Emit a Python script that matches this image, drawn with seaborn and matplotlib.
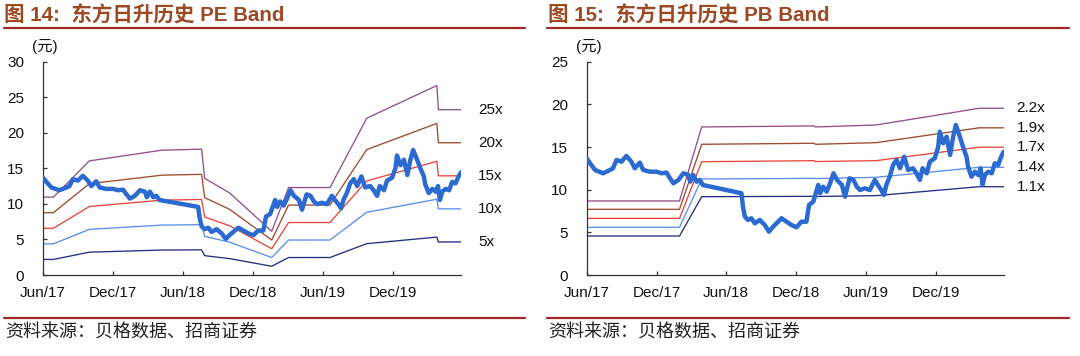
import matplotlib
matplotlib.use('Agg')
import matplotlib.pyplot as plt
import matplotlib.lines as mlines
import pandas as pd
import seaborn as sns

# ---------------- data ----------------
price_dates = ['2017-06-01', '2017-06-10', '2017-06-23', '2017-07-14', '2017-08-01', '2017-08-09',
               '2017-08-18', '2017-08-31', '2017-09-13', '2017-09-26', '2017-10-05', '2017-10-18',
               '2017-10-27', '2017-11-13', '2017-12-01', '2017-12-14', '2017-12-27', '2018-01-05',
               '2018-01-14', '2018-01-27', '2018-02-09', '2018-02-22', '2018-02-27', '2018-03-07',
               '2018-03-16', '2018-03-24', '2018-04-01', '2018-07-11', '2018-07-15', '2018-07-20',
               '2018-07-28', '2018-08-06', '2018-08-15', '2018-08-28', '2018-09-10', '2018-09-21',
               '2018-10-02', '2018-10-15', '2018-10-24', '2018-11-06', '2018-11-19', '2018-12-02',
               '2018-12-15', '2018-12-28', '2019-01-04', '2019-01-15', '2019-01-28', '2019-02-02',
               '2019-02-10', '2019-02-19', '2019-02-28', '2019-03-09', '2019-03-18', '2019-03-31',
               '2019-04-08', '2019-04-20', '2019-04-30', '2019-05-09', '2019-05-17', '2019-05-30',
               '2019-06-12', '2019-06-25', '2019-07-03', '2019-07-12', '2019-07-19', '2019-07-25',
               '2019-08-03', '2019-08-12', '2019-08-21', '2019-08-30', '2019-09-10', '2019-09-20',
               '2019-10-03', '2019-10-12', '2019-10-21', '2019-10-28', '2019-11-08', '2019-11-16',
               '2019-11-29', '2019-12-08', '2019-12-12', '2019-12-21', '2019-12-30', '2020-01-08',
               '2020-01-16', '2020-01-23', '2020-02-01', '2020-02-11', '2020-02-20', '2020-02-24',
               '2020-03-04', '2020-03-13', '2020-03-22', '2020-03-28', '2020-04-02', '2020-04-08',
               '2020-04-17', '2020-04-26', '2020-05-04', '2020-05-13', '2020-05-19', '2020-05-25',
               '2020-05-28']
price = [13.68, 13.09, 12.31, 11.92, 12.31, 12.51,
         13.48, 13.28, 13.95, 13.28, 12.51, 13.17,
         12.31, 12.11, 12.11, 11.92, 12.00, 11.34,
         10.75, 11.14, 11.92, 11.72, 10.94, 11.72,
         10.94, 11.14, 10.55, 9.58, 8.00, 6.84,
         6.45, 6.65, 6.06, 6.45, 5.86, 5.08,
         5.66, 6.25, 6.65, 6.25, 5.86, 5.59,
         6.25, 6.25, 8.21, 8.59, 10.55, 9.58,
         10.35, 9.77, 10.75, 11.92, 11.14, 10.55,
         9.18, 11.34, 11.14, 10.35, 9.96, 10.16,
         9.96, 11.14, 10.55, 9.96, 9.38, 10.55,
         11.52, 12.90, 13.48, 12.51, 13.87, 12.31,
         12.51, 11.92, 11.14, 12.51, 11.92, 13.28,
         13.68, 15.04, 16.80, 15.44, 16.21, 14.07,
         16.21, 17.58, 16.41, 15.00, 13.87, 12.70,
         11.52, 12.11, 11.72, 12.51, 10.55, 11.72,
         12.11, 11.92, 13.09, 12.90, 13.68, 14.27,
         14.46]

pe_dates = ['2017-06-01', '2017-06-28', '2017-09-30', '2018-04-07', '2018-07-20', '2018-07-28',
            '2018-10-01', '2019-01-19', '2019-03-04', '2019-06-20', '2019-09-24', '2020-03-25',
            '2020-03-29', '2020-05-28']
pe_25x = [10.95, 10.95, 16.05, 17.55, 17.70, 13.60, 11.55, 6.15, 12.30, 12.30, 22.05, 26.65, 23.25, 23.25]
pe_20x = [8.76, 8.76, 12.84, 14.04, 14.16, 10.88, 9.24, 4.92, 9.84, 9.84, 17.64, 21.32, 18.60, 18.60]
pe_15x = [6.57, 6.57, 9.63, 10.53, 10.62, 8.16, 6.93, 3.69, 7.38, 7.38, 13.23, 15.99, 13.95, 13.95]
pe_10x = [4.38, 4.38, 6.42, 7.02, 7.08, 5.44, 4.62, 2.46, 4.92, 4.92, 8.82, 10.66, 9.30, 9.30]
pe_5x = [2.19, 2.19, 3.21, 3.51, 3.54, 2.72, 2.31, 1.23, 2.46, 2.46, 4.41, 5.33, 4.65, 4.65]
pe_labels = ['25x', '20x', '15x', '10x', '5x']

pb_dates = ['2017-06-01', '2018-01-30', '2018-03-29', '2019-01-17', '2019-01-21', '2019-06-28',
            '2020-03-24', '2020-05-28']
pb_22x = [8.68, 8.68, 17.35, 17.47, 17.35, 17.58, 19.54, 19.54]
pb_19x = [7.70, 7.70, 15.32, 15.44, 15.32, 15.51, 17.25, 17.25]
pb_17x = [6.64, 6.64, 13.28, 13.40, 13.30, 13.40, 14.98, 14.98]
pb_14x = [5.59, 5.59, 11.25, 11.33, 11.30, 11.45, 12.62, 12.62]
pb_11x = [4.57, 4.57, 9.18, 9.22, 9.20, 9.30, 10.35, 10.35]
pb_labels = ['2.2x', '1.9x', '1.7x', '1.4x', '1.1x']

tick_dates = ['2017-06-01', '2017-12-01', '2018-06-01', '2018-12-01', '2019-06-01', '2019-12-01']
tick_labels = ['Jun/17', 'Dec/17', 'Jun/18', 'Dec/18', 'Jun/19', 'Dec/19']

band_colors = ['#94508A', '#9E4B2E', '#E8463C', '#5C8EE8', '#232F80']
price_color = '#2B6AD0'
rule_color = '#A3282A'
title_color = '#9C4A24'

# ---------------- style ----------------
sns.set_theme(style='ticks')
plt.rcParams['font.family'] = ['Liberation Sans', 'Noto Sans CJK SC']
plt.rcParams['axes.unicode_minus'] = False

df_price = pd.DataFrame({'date': pd.to_datetime(price_dates), 'price': price})

fig = plt.figure(figsize=(10.8, 3.56), dpi=100)
ax1 = fig.add_axes([0.0398, 0.2275, 0.3874, 0.5992])
ax2 = fig.add_axes([0.5432, 0.2275, 0.3864, 0.5992])


def draw_panel(ax, dates, bands, labels, ymax, label_off):
    d = pd.to_datetime(dates)
    for vals, lab, col in zip(bands, labels, band_colors):
        band_df = pd.DataFrame({'date': d, 'value': vals})
        sns.lineplot(data=band_df, x='date', y='value', ax=ax, color=col, linewidth=0.95,
                     legend=False)
        ax.annotate(lab, xy=(d[-1], vals[-1]), xytext=(label_off, 0), textcoords='offset points',
                    va='center', ha='left', fontsize=11, color='#111111', annotation_clip=False)
    sns.lineplot(data=df_price, x='date', y='price', ax=ax, color=price_color, linewidth=3.2,
                 legend=False, zorder=5)
    ax.set_xlim(pd.Timestamp('2017-06-01'), pd.Timestamp('2020-05-28'))
    ax.set_ylim(0, ymax)
    ax.set_yticks(range(0, ymax + 1, 5))
    ax.set_xticks(pd.to_datetime(tick_dates))
    ax.set_xticklabels(tick_labels)
    ax.set_xlabel('')
    ax.set_ylabel('')
    sns.despine(ax=ax)
    for s in ['left', 'bottom']:
        ax.spines[s].set_color('#333333')
        ax.spines[s].set_linewidth(0.9)
    ax.tick_params(axis='both', direction='in', length=3, width=0.9, color='#333333',
                   labelsize=11, labelcolor='#111111')
    ax.tick_params(axis='y', pad=13.5)
    ax.tick_params(axis='x', pad=8)


draw_panel(ax1, pe_dates, [pe_25x, pe_20x, pe_15x, pe_10x, pe_5x], pe_labels, 30, 12)
draw_panel(ax2, pb_dates, [pb_22x, pb_19x, pb_17x, pb_14x, pb_11x], pb_labels, 25, 9)

# titles, rules, units, source
fig.text(0.004, 0.9565, '图 14:  东方日升历史 PE Band', fontsize=14.8, fontweight='bold',
         color=title_color, va='center', ha='left')
fig.text(0.5074, 0.9565, '图 15:  东方日升历史 PB Band', fontsize=14.8, fontweight='bold',
         color=title_color, va='center', ha='left')

for x0, x1 in [(0.0037, 0.486), (0.5065, 0.9898)]:
    fig.add_artist(mlines.Line2D([x0, x1], [0.9205, 0.9205], transform=fig.transFigure,
                                 color=rule_color, linewidth=1.6))
    fig.add_artist(mlines.Line2D([x0, x1], [0.1076, 0.1076], transform=fig.transFigure,
                                 color=rule_color, linewidth=1.6))

fig.text(0.0417, 0.868, '(元)', fontsize=11, ha='center', va='center', color='#111111')
fig.text(0.5454, 0.868, '(元)', fontsize=11, ha='center', va='center', color='#111111')

fig.text(0.005, 0.0646, '资料来源：贝格数据、招商证券', fontsize=13, ha='left', va='center',
         color='#222222', family=['Noto Sans CJK SC'])
fig.text(0.5074, 0.0646, '资料来源：贝格数据、招商证券', fontsize=13, ha='left', va='center',
         color='#222222', family=['Noto Sans CJK SC'])

fig.savefig('out.png', dpi=100)
